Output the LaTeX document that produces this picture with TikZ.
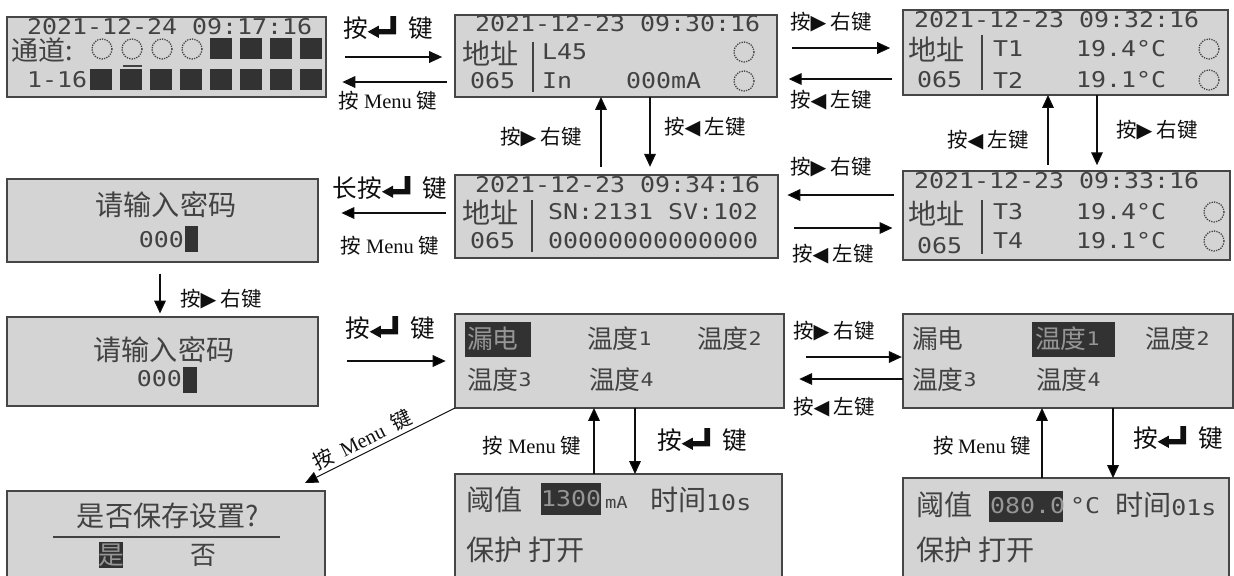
\documentclass[tikz,border=0pt]{standalone}
\usepackage{fontspec}
\setmainfont{Liberation Serif}
\newfontfamily\hanfont{Noto Sans CJK SC}
\newfontfamily\symfont{DejaVu Sans}
\newfontfamily\lcdfont{DejaVu Sans Mono}[FakeStretch=1.15]
\usetikzlibrary{arrows.meta,fit}

\definecolor{lcdbg}{RGB}{212,212,212}
\definecolor{lcdedge}{RGB}{70,70,70}
\definecolor{lcdink}{RGB}{66,66,66}
\definecolor{lcdinv}{RGB}{50,50,50}
\definecolor{lcdinvtext}{RGB}{150,150,150}
\definecolor{lbltext}{RGB}{15,15,15}

\newcommand{\entkey}{\tikz[baseline=-0.04em, x=1em, y=1em]{\fill[lbltext] (0,0.21) -- (0.45,0.46) -- (0.45,0.32) -- (0.92,0.32) -- (0.92,0.85) -- (1.15,0.85) -- (1.15,0.1) -- (0.45,0.1) -- (0.45,-0.04) -- cycle;}}
\newcommand{\rtri}{{\symfont\char"25B6}}
\newcommand{\ltri}{{\symfont\char"25C0}}
\newcommand{\lcdtxt}[1]{{\lcdfont\fontsize{18.5}{20}\selectfont #1}}
\newcommand{\lcdsmall}[1]{\raisebox{3pt}{\lcdfont\fontsize{16}{17}\selectfont #1}}

\begin{document}
\begin{tikzpicture}[
  x=0.03cm,
  y=-0.03cm,
  >={Triangle[length=11pt, width=10pt]},
  every node/.style={inner sep=0pt, outer sep=0pt},
  lcdScreen/.style={draw=lcdedge, fill=lcdbg, line width=1.3pt, inner sep=0pt},
  lcdMono/.style={font=\lcdfont\fontsize{18.5}{20}\selectfont, text=lcdink, anchor=west},
  lcdHan/.style={font=\hanfont\fontsize{24}{26}\selectfont, text=lcdink, anchor=west},
  lcdHanS/.style={font=\hanfont\fontsize{22}{24}\selectfont, text=lcdink, anchor=west},
  lcdBlock/.style={fill=lcdinv},
  lcdRing/.style={draw=lcdink, line width=1.1pt, densely dotted},
  lcdBar/.style={draw=lcdink, line width=1.6pt},
  lbSmall/.style={font=\hanfont\fontsize{17.5}{19}\selectfont, text=lbltext},
  lbBig/.style={font=\hanfont\fontsize{21}{23}\selectfont, text=lbltext},
  lcArrow/.style={draw=lbltext, line width=0.9pt, ->}
]

  \path[use as bounding box] (0,0) rectangle (1234,575);

  % status screen
  \node[lcdScreen, fit={(7,17) (326,97)}] (scrMain) {};
  \node[lcdMono] (timeMain) at (27,27) {2021-12-24 09:17:16};
  \node[lcdHan, font=\hanfont\fontsize{23}{25}\selectfont] (chanMain) at (12,50) {通道:};
  \foreach \cx in {102,132,162,192}
    \draw[lcdRing] (\cx,49) circle[radius=10];
  \draw[lcdBar] (123,66) -- (142,66);
  \foreach \bx in {210,240,270,300}
    \fill[lcdBlock] (\bx,38) rectangle ++(22,21);
  \node[lcdMono] (rangeMain) at (27,80) {1-16};
  \foreach \bx in {90,120,...,300}
    \fill[lcdBlock] (\bx,69) rectangle ++(22,21);

  % address / leakage screen
  \node[lcdScreen, fit={(455,15) (777,97)}] (scrAddr) {};
  \node[lcdMono] (timeAddr) at (475,24) {2021-12-23 09:30:16};
  \node[lcdHan] (addrAddr) at (462,53) {地址};
  \node[lcdMono] (numAddr) at (470,81) {065};
  \draw[lcdBar] (533,42) -- (533,92);
  \node[lcdMono] (leakAddr) at (542,52) {L45};
  \node[lcdMono] (inAddr) at (542,81) {In};
  \node[lcdMono] (curAddr) at (626,81) {000mA};
  \draw[lcdRing] (744,52) circle[radius=10];
  \draw[lcdRing] (744,81) circle[radius=10];

  % temperature screen T1/T2
  \node[lcdScreen, fit={(903,10) (1228,95)}] (scrTempA) {};
  \node[lcdMono] (timeTempA) at (914,20) {2021-12-23 09:32:16};
  \node[lcdHan] (addrTempA) at (908,49) {地址};
  \node[lcdMono] (numTempA) at (917,80) {065};
  \draw[lcdBar] (982,35) -- (982,90);
  \node[lcdMono] (nameT1) at (993,49) {T1};
  \node[lcdMono] (valT1) at (1076,49) {19.4°C};
  \draw[lcdRing] (1209,49) circle[radius=10];
  \node[lcdMono] (nameT2) at (993,80) {T2};
  \node[lcdMono] (valT2) at (1076,80) {19.1°C};
  \draw[lcdRing] (1209,80) circle[radius=10];

  % password screen (first)
  \node[lcdScreen, fit={(7,179) (318,262)}] (scrPwdA) {};
  \node[lcdHan, anchor=center] (pwdAskA) at (166,205) {请输入密码};
  \node[lcdMono, anchor=east] (pwdValA) at (184,240) {000};
  \fill[lcdBlock] (185,226) rectangle (198,252);

  % serial number screen
  \node[lcdScreen, fit={(455,175) (778,258)}] (scrInfo) {};
  \node[lcdMono] (timeInfo) at (475,185) {2021-12-23 09:34:16};
  \node[lcdHan] (addrInfo) at (462,212) {地址};
  \node[lcdMono] (numInfo) at (470,241) {065};
  \draw[lcdBar] (532,200) -- (532,252);
  \node[lcdMono] (snInfo) at (548,212) {SN:2131 SV:102};
  \node[lcdMono] (bitsInfo) at (548,241) {00000000000000};

  % temperature screen T3/T4
  \node[lcdScreen, fit={(903,171) (1230,260)}] (scrTempB) {};
  \node[lcdMono] (timeTempB) at (914,181) {2021-12-23 09:33:16};
  \node[lcdHan] (addrTempB) at (908,213) {地址};
  \node[lcdMono] (numTempB) at (917,246) {065};
  \draw[lcdBar] (982,200) -- (982,254);
  \node[lcdMono] (nameT3) at (993,212) {T3};
  \node[lcdMono] (valT3) at (1076,212) {19.4°C};
  \draw[lcdRing] (1214,212) circle[radius=10];
  \node[lcdMono] (nameT4) at (993,241) {T4};
  \node[lcdMono] (valT4) at (1076,241) {19.1°C};
  \draw[lcdRing] (1214,241) circle[radius=10];

  % password screen (second)
  \node[lcdScreen, fit={(7,317) (318,406)}] (scrPwdB) {};
  \node[lcdHan, anchor=center] (pwdAskB) at (164,350) {请输入密码};
  \node[lcdMono, anchor=east] (pwdValB) at (182,379) {000};
  \fill[lcdBlock] (183,367) rectangle (197,393);

  % menu screen, leakage selected
  \node[lcdScreen, fit={(455,314) (784,408)}] (scrMenuA) {};
  \fill[lcdBlock] (465,322) rectangle (531,357);
  \node[lcdHanS, text=lcdinvtext] (menuLeakA) at (467,339) {漏电};
  \node[lcdHanS] (menuT1A) at (587,339) {温度\lcdsmall{1}};
  \node[lcdHanS] (menuT2A) at (697,339) {温度\lcdsmall{2}};
  \node[lcdHanS] (menuT3A) at (467,380) {温度\lcdsmall{3}};
  \node[lcdHanS] (menuT4A) at (589,380) {温度\lcdsmall{4}};

  % menu screen, T1 selected
  \node[lcdScreen, fit={(903,314) (1233,408)}] (scrMenuB) {};
  \node[lcdHanS] (menuLeakB) at (912,339) {漏电};
  \fill[lcdBlock] (1032,322) rectangle (1115,357);
  \node[lcdHanS, text=lcdinvtext] (menuT1B) at (1035,339) {温度\lcdsmall{1}};
  \node[lcdHanS] (menuT2B) at (1145,339) {温度\lcdsmall{2}};
  \node[lcdHanS] (menuT3B) at (912,380) {温度\lcdsmall{3}};
  \node[lcdHanS] (menuT4B) at (1036,380) {温度\lcdsmall{4}};

  % save prompt
  \node[lcdScreen, fit={(7,491) (325,590)}] (scrSave) {};
  \node[lcdHan, anchor=center] (saveAsk) at (168,516) {是否保存设置?};
  \draw[lcdBar] (53,537) -- (280,537);
  \fill[lcdBlock] (99,542) rectangle (123,568);
  \node[lcdHanS, anchor=center, text=lcdinvtext] (saveYes) at (111,555) {是};
  \node[lcdHanS, anchor=center] (saveNo) at (203,555) {否};

  % leakage threshold
  \node[lcdScreen, fit={(455,474) (782,590)}] (scrLimA) {};
  \node[lcdHan] (limLabelA) at (466,500) {阈值};
  \fill[lcdBlock] (541,483) rectangle (601,515);
  \node[lcdMono, text=lcdinvtext] (limValA) at (541,499) {1300};
  \node[lcdMono, font=\lcdfont\fontsize{14}{15}\selectfont] (limUnitA) at (605,503) {mA};
  \node[lcdHan] (limTimeA) at (650,500) {时间\lcdtxt{10s}};
  \node[lcdHan] (limProtA) at (466,550) {保护 打开};

  % temperature threshold
  \node[lcdScreen, fit={(903,478) (1229,590)}] (scrLimB) {};
  \node[lcdHan] (limLabelB) at (916,505) {阈值};
  \fill[lcdBlock] (989,491) rectangle (1063,522);
  \node[lcdMono, text=lcdinvtext] (limValB) at (990,506) {080.0};
  \node[lcdMono] (limUnitB) at (1070,506) {°C};
  \node[lcdHan] (limTimeB) at (1115,505) {时间\lcdtxt{01s}};
  \node[lcdHan] (limProtB) at (916,550) {保护 打开};

  % key arrows, top row
  \draw[lcArrow, shorten <=16pt, shorten >=11pt] (scrMain.east |- 0,57) -- (scrAddr.west |- 0,57);
  \draw[lcArrow, shorten <=7pt, shorten >=14pt] (scrAddr.west |- 0,82) -- (scrMain.east |- 0,82);
  \node[lbBig] (keyEnterA) at (388,28) {按\entkey\hspace{0.5em}键};
  \node[lbSmall] (keyMenuA) at (388,101) {按 {\rmfamily Menu} 键};

  \draw[lcArrow, shorten <=13pt, shorten >=11pt] (scrAddr.east |- 0,48) -- (scrTempA.west |- 0,48);
  \draw[lcArrow, shorten <=9pt, shorten >=10pt] (scrTempA.west |- 0,79) -- (scrAddr.east |- 0,79);
  \node[lbSmall] (keyRightA) at (831,22) {按\rtri\ 右键};
  \node[lbSmall] (keyLeftA) at (831,100) {按\ltri\ 左键};

  % vertical arrows between rows
  \draw[lcArrow, shorten <=7pt] (scrInfo.north -| 601,0) -- (scrAddr.south -| 601,0);
  \draw[lcArrow, shorten >=7pt] (scrAddr.south -| 650,0) -- (scrInfo.north -| 650,0);
  \node[lbSmall] (keyRightB) at (541,137) {按\rtri\ 右键};
  \node[lbSmall] (keyLeftB) at (705,127) {按\ltri\ 左键};

  \draw[lcArrow, shorten <=5pt] (scrTempB.north -| 1048,0) -- (scrTempA.south -| 1048,0);
  \draw[lcArrow, shorten >=5pt] (scrTempA.south -| 1097,0) -- (scrTempB.north -| 1097,0);
  \node[lbSmall] (keyLeftC) at (988,140) {按\ltri\ 左键};
  \node[lbSmall] (keyRightC) at (1157,130) {按\rtri\ 右键};

  % middle row
  \draw[lcArrow, shorten <=8pt, shorten >=8pt] (scrTempB.west |- 0,195) -- (scrInfo.east |- 0,195);
  \draw[lcArrow, shorten <=14pt, shorten >=9pt] (scrInfo.east |- 0,228) -- (scrTempB.west |- 0,228);
  \node[lbSmall] (keyRightD) at (831,167) {按\rtri\ 右键};
  \node[lbSmall] (keyLeftD) at (833,254) {按\ltri\ 左键};

  \draw[lcArrow, shorten <=8pt, shorten >=20pt] (scrInfo.west |- 0,213) -- (scrPwdA.east |- 0,213);
  \node[lbBig] (keyEnterB) at (390,188) {长按\entkey\hspace{0.5em}键};
  \node[lbSmall] (keyMenuB) at (390,246) {按 {\rmfamily Menu} 键};

  \draw[lcArrow, shorten <=10pt, shorten >=3pt] (scrPwdA.south -| 160,0) -- (scrPwdB.north -| 160,0);
  \node[lbSmall] (keyRightE) at (221,299) {按\rtri\ 右键};

  % menu row
  \draw[lcArrow, shorten <=25pt, shorten >=8pt] (scrPwdB.east |- 0,361) -- (scrMenuA.west |- 0,361);
  \node[lbBig] (keyEnterC) at (390,328) {按\entkey\hspace{0.5em}键};

  \draw[lcArrow, shorten <=19pt, shorten >=1pt] (scrMenuA.east |- 0,357) -- (scrMenuB.west |- 0,357);
  \draw[lcArrow, shorten >=13pt] (scrMenuB.west |- 0,379) -- (scrMenuA.east |- 0,379);
  \node[lbSmall] (keyRightF) at (834,331) {按\rtri\ 右键};
  \node[lbSmall] (keyLeftF) at (834,407) {按\ltri\ 左键};

  \draw[lcArrow, <-] ([shift={(-20,-8)}]scrSave.north east) -- (scrMenuA.south west)
    node[lbSmall, pos=0.42, sloped, above=3pt] (keyMenuC) {按\hspace{0.45em}{\rmfamily Menu}\hspace{0.45em}键};

  % bottom row
  \draw[lcArrow] (scrLimA.north -| 594,0) -- (scrMenuA.south -| 594,0);
  \draw[lcArrow] (scrMenuA.south -| 635,0) -- (scrLimA.north -| 635,0);
  \node[lbSmall] (keyMenuD) at (532,446) {按 {\rmfamily Menu} 键};
  \node[lbBig] (keyEnterD) at (702,440) {按\entkey\hspace{0.5em}键};

  \draw[lcArrow] (scrLimB.north -| 1042,0) -- (scrMenuB.south -| 1042,0);
  \draw[lcArrow] (scrMenuB.south -| 1113,0) -- (scrLimB.north -| 1113,0);
  \node[lbSmall] (keyMenuE) at (982,446) {按 {\rmfamily Menu} 键};
  \node[lbBig] (keyEnterE) at (1178,438) {按\entkey\hspace{0.5em}键};

\end{tikzpicture}
\end{document}
